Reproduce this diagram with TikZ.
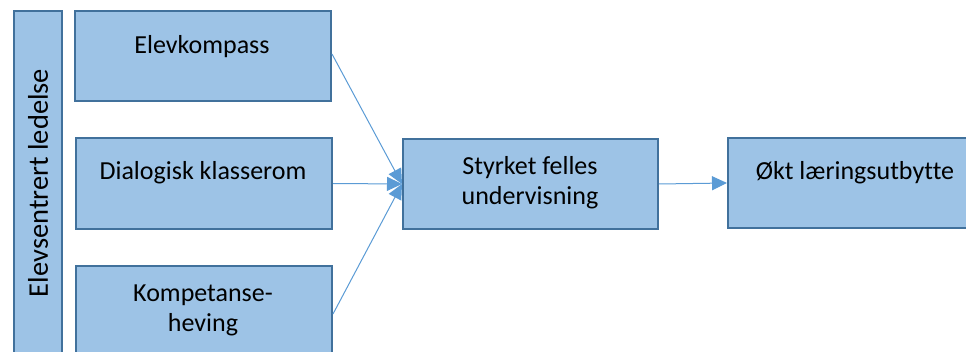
\documentclass[tikz,border=0pt]{standalone}
\usepackage{fontspec}
\setmainfont{Carlito}[Ligatures=NoCommon]
\usetikzlibrary{arrows.meta}
\definecolor{boxfill}{HTML}{9DC3E6}
\definecolor{boxline}{HTML}{41719C}
\definecolor{arrline}{HTML}{5B9BD5}
\begin{document}
\begin{tikzpicture}[x=1pt,y=-1pt,
  box/.style={draw=boxline,fill=boxfill,line width=2pt,rectangle,inner sep=0pt},
  lbl/.style={font=\fontsize{26}{30}\selectfont,align=center,inner sep=0pt},
  conn/.style={draw=arrline,line width=1pt,-{Triangle[length=15pt,width=14pt]}}]
\useasboundingbox (0,0) rectangle (966,352);
\clip (0,0) rectangle (966,352);
\node[box,minimum width=48pt,minimum height=360pt,anchor=north west] (bar) at (13,10) {};
\node[lbl,rotate=90,font=\fontsize{28.5}{30}\selectfont] (bart) at (38,183) {Elevsentrert ledelse};
\node[box,minimum width=256pt,minimum height=90pt,anchor=north west] (e) at (74,10) {};
\node[box,minimum width=256pt,minimum height=91pt,anchor=north west] (d) at (75,137) {};
\node[box,minimum width=256pt,minimum height=90pt,anchor=north west] (k) at (75,265) {};
\node[box,minimum width=255pt,minimum height=90pt,anchor=north west] (s) at (402,138) {};
\node[box,minimum width=255pt,minimum height=90pt,anchor=north west] (o) at (727,137) {};
\node[lbl] (et) at (202,47) {Elevkompass};
\node[lbl] (dt) at (203,173) {Dialogisk klasserom};
\node[lbl] (kt) at (203,310) {Kompetanse-\\heving};
\node[lbl] (st) at (530,183) {Styrket felles\\undervisning};
\node[lbl] (ot) at (855,173) {Økt læringsutbytte};
\draw[conn] ([yshift=2pt]e.east) -- (s.west);
\draw[conn] (d.east) -- (s.west);
\draw[conn] ([yshift=-3pt]k.east) -- (s.west);
\draw[conn] (s.east) -- (o.west);
\end{tikzpicture}
\end{document}
